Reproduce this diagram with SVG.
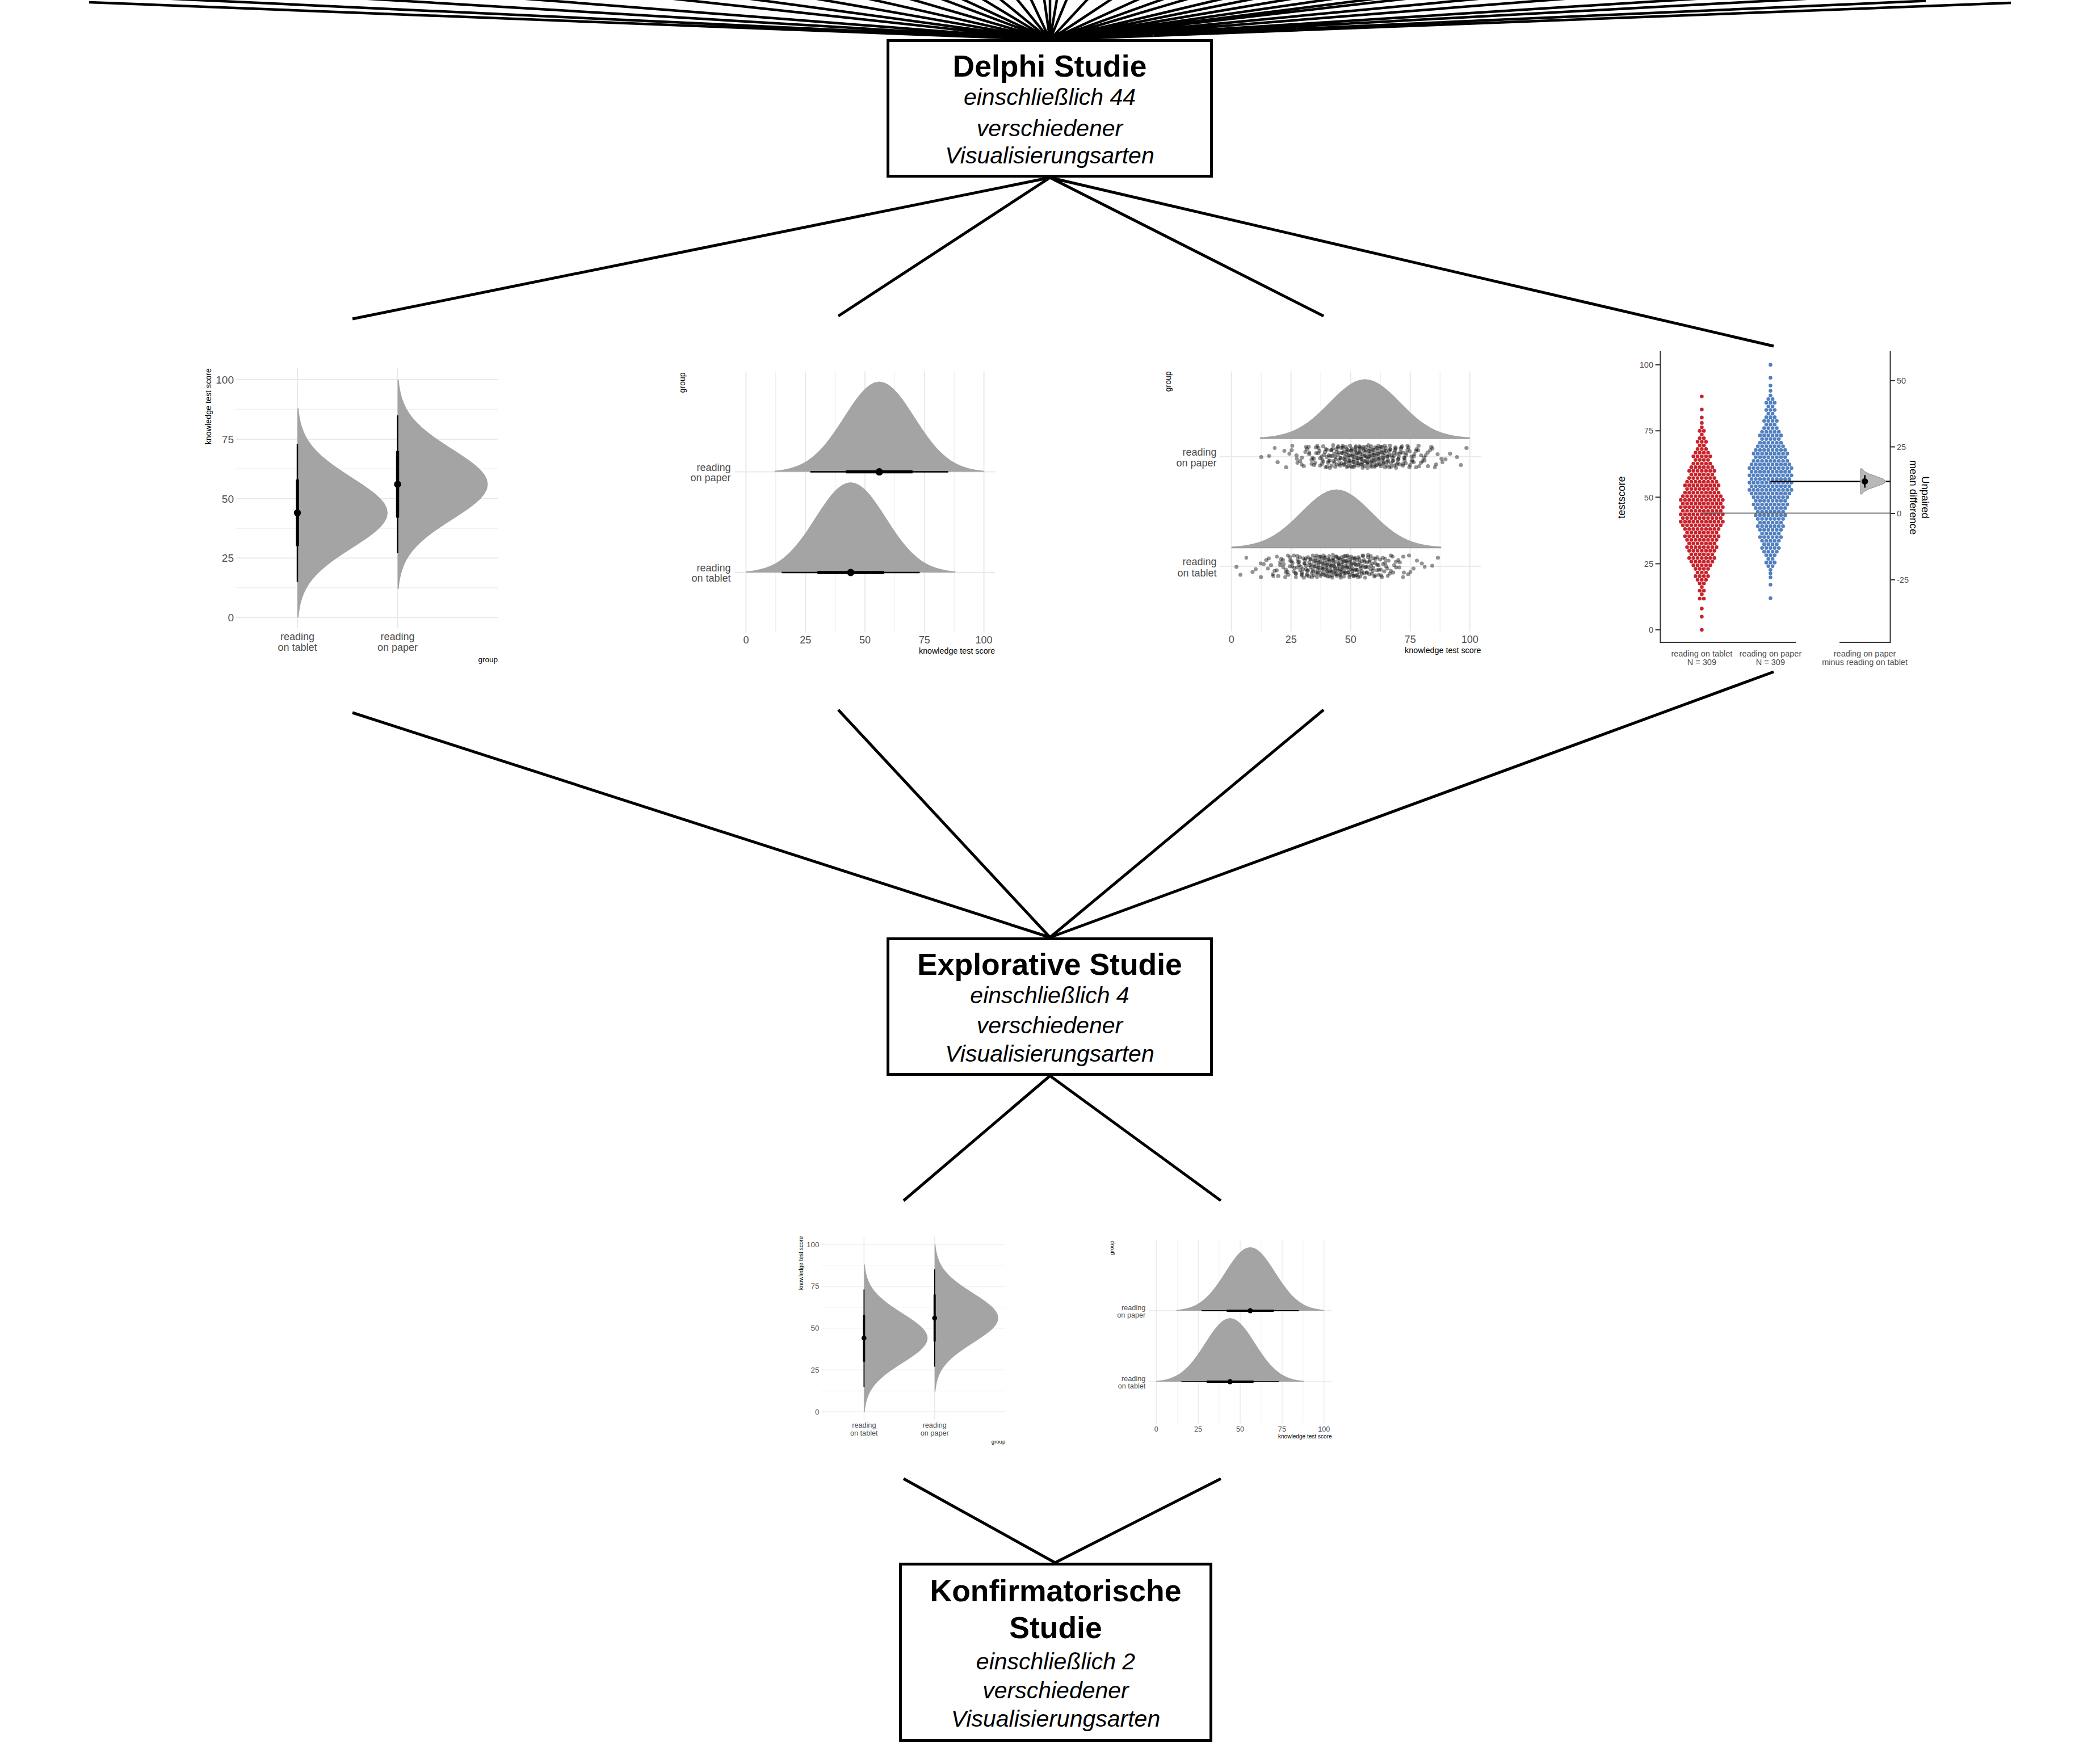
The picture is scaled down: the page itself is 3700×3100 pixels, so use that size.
<svg xmlns="http://www.w3.org/2000/svg" width="3700" height="3100" viewBox="0 0 3700 3100">
<style>
.fan{stroke:#000;stroke-width:4.5;fill:none}
.ln{stroke:#000;stroke-width:5;fill:none}
.box{fill:#fff;stroke:#000;stroke-width:5}
.t{font-family:"Liberation Sans",Arial,sans-serif;font-weight:bold;font-size:53.5px;text-anchor:middle;fill:#000}
.s{font-family:"Liberation Sans",Arial,sans-serif;font-style:italic;font-size:41px;text-anchor:middle;fill:#000}
.gr{stroke:#e9e9e9;stroke-width:2;fill:none}
.gm{stroke:#f0f0f0;stroke-width:1.5;fill:none}
.den{fill:#a4a4a4}
.tk{font-family:"Liberation Sans",Arial,sans-serif;fill:#4d4d4d}
.ax{font-family:"Liberation Sans",Arial,sans-serif;fill:#000}
.sw{fill:none;stroke-width:6.6;stroke-linecap:round;stroke-dasharray:0 7.4}
</style>
<defs>
<path id="dens" d="M-44 0L-44 -.012L-42 -.0178L-40 -.0259L-38 -.037L-36 -.0519L-34 -.0714L-32 -.0965L-30 -.1281L-28 -.167L-26 -.2137L-24 -.2685L-22 -.3312L-20 -.4012L-18 -.4772L-16 -.5574L-14 -.6392L-12 -.7198L-10 -.7959L-8 -.8641L-6 -.9211L-4 -.9642L-2 -.9909L0 -1L2 -.9909L4 -.9642L6 -.9211L8 -.8641L10 -.7959L12 -.7198L14 -.6392L16 -.5574L18 -.4772L20 -.4012L22 -.3312L24 -.2685L26 -.2137L28 -.167L30 -.1281L32 -.0965L34 -.0714L36 -.0519L38 -.037L40 -.0259L42 -.0178L44 -.012L44 0Z"/>
<path id="jit" fill="none" stroke="#000" stroke-width="7" stroke-linecap="round" d="M1 -8h0M-1 17h0M3 1h0M-3 -14h0M4 11h0M-4 -4h0M6 -20h0M-6 5h0M7 -10h0M-7 14h0M9 -1h0M-9 -16h0M11 9h0M-11 -7h0M12 18h0M-12 3h0M14 -12h0M-14 12h0M16 -3h0M-16 -18h0M17 6h0M-17 -9h0M19 16h0M-19 1h0M21 -15h0M-21 10h0M23 -5h0M-23 19h0M24 4h0M-24 -11h0M26 14h0M-26 -2h0M28 -17h0M-28 8h0M30 -7h0M-30 17h0M32 2h0M-32 -13h0M33 11h0M-33 -4h0M35 -19h0M-35 6h0M37 -10h0M-37 15h0M39 0h0M-39 -16h0M41 9h0M-41 -6h0M43 19h0M-43 3h0M45 -12h0M-45 13h0M47 -2h0M-47 -18h0M50 7h0M-50 -8h0M52 16h0M-52 1h0M54 -14h0M-54 11h0M56 -5h0M-56 -20h0M59 5h0M-59 -11h0M61 14h0M-61 -1h0M64 -16h0M-64 8h0M67 -7h0M-67 18h0M69 2h0M-69 -13h0M72 12h0M-72 -3h0M75 -19h0M-75 6h0M79 -9h0M-79 16h0M82 0h0M-82 -15h0M86 10h0M-86 -6h0M90 19h0M-90 4h0M94 -11h0M-94 13h0M99 -2h0M-99 -17h0M105 7h0M-105 -8h0M111 17h0M-111 2h0M119 -14h0M-119 11h0M128 -4h0M-128 -19h0M142 5h0M-142 -10h0M169 15h0M-169 -1h0"/>
<g id="p1body">
<path class="gr" d="M416 1088.2H877M416 983.4H877M416 878.7H877M416 773.9H877M416 669.1H877"/>
<path class="gm" d="M416 1035.8H877M416 931H877M416 826.3H877M416 721.5H877"/>
<path class="gr" d="M524 649V1107M700.5 649V1107"/>
<use href="#dens" class="den" transform="matrix(0 -4.191 -159 0 524 903.8)"/>
<use href="#dens" class="den" transform="matrix(0 -4.191 -159 0 700.5 853.5)"/>
<path stroke="#000" stroke-width="2.5" d="M524 782.3V1025.3M700.5 731.9V975"/>
<path stroke="#000" stroke-width="5.5" d="M524 845.1V962.5M700.5 794.8V912.2"/>
<circle cx="524" cy="903.8" r="6.2"/>
<circle cx="700.5" cy="853.5" r="6.2"/>
</g>
<g id="p2body">
<path class="gr" d="M1314.4 654.5V1114.4M1419.2 654.5V1114.4M1524 654.5V1114.4M1628.8 654.5V1114.4M1733.6 654.5V1114.4"/>
<path class="gm" d="M1366.8 654.5V1114.4M1471.6 654.5V1114.4M1576.4 654.5V1114.4M1681.2 654.5V1114.4"/>
<path class="gr" d="M1294.7 831.6H1753.3M1294.7 1009H1753.3"/>
<use href="#dens" class="den" transform="matrix(4.192 0 0 159 1549.2 831.6)"/>
<use href="#dens" class="den" transform="matrix(4.192 0 0 159 1498.8 1009)"/>
<path stroke="#000" stroke-width="2.5" d="M1427.6 831.6H1670.7M1377.3 1009H1620.4"/>
<path stroke="#000" stroke-width="5.5" d="M1490.5 831.6H1607.8M1440.2 1009H1557.5"/>
<circle cx="1549.2" cy="831.6" r="6.5"/>
<circle cx="1498.8" cy="1009" r="6.5"/>
</g>
</defs>
<rect x="0" y="0" width="3700" height="3100" fill="#fff"/>

<g id="connectors">
<path class="fan" d="M1850 70L157 4M1850 70L47.6 -14M1850 70L450.8 -14M1850 70L773.6 -14M1850 70L1077.2 -14M1850 70L1234.4 -14M1850 70L1371.2 -14M1850 70L1478 -14M1850 70L1562 -14M1850 70L1626.8 -14M1850 70L1668.8 -14M1850 70L1710.8 -14M1850 70L1746.8 -14M1850 70L1781.6 -14M1850 70L1810.4 -14M1850 70L1838 -14M1850 70L1850 -14M1850 70L1864.4 -14M1850 70L1884.8 -14M1850 70L1928 -14M1850 70L1977.2 -14M1850 70L2033.6 -14M1850 70L2084 -14M1850 70L2133.2 -14M1850 70L2204 -14M1850 70L2267.6 -14M1850 70L2345.6 -14M1850 70L2430.8 -14M1850 70L2516 -14M1850 70L2579.6 -14M1850 70L2729.6 -14M1850 70L2906 -14M1850 70L3176 -14M1850 70L3401.6 -14M1850 70L3393 1.5M1850 70L3543 5"/>
<path class="ln" d="M1850 313L621 562M1850 313L1477 557M1850 313L2332 557M1850 313L3125 610"/>
<path class="ln" d="M621 1256L1850 1652M1477 1251L1850 1652M2332 1251L1850 1652M3125 1184L1850 1652"/>
<path class="ln" d="M1850 1896L1592 2116M1850 1896L2151 2116"/>
<path class="ln" d="M1592 2606L1859 2754M2151 2606L1859 2754"/>
</g>

<g id="delphi">
<rect class="box" x="1564.5" y="71.5" width="570" height="239"/>
<text class="t" x="1849.5" y="135">Delphi Studie</text>
<text class="s" x="1849.5" y="185">einschließlich 44</text>
<text class="s" x="1849.5" y="240">verschiedener</text>
<text class="s" x="1849.5" y="288">Visualisierungsarten</text>
</g>

<g id="plot1">
<use href="#p1body"/>
<g class="tk" font-size="19" text-anchor="end"><text x="412" y="675.9">100</text><text x="412" y="780.7">75</text><text x="412" y="885.5">50</text><text x="412" y="990.2">25</text><text x="412" y="1095">0</text></g>
<g class="tk" font-size="18" text-anchor="middle"><text x="524" y="1128">reading</text><text x="524" y="1147">on tablet</text><text x="700.5" y="1128">reading</text><text x="700.5" y="1147">on paper</text></g>
<text class="ax" x="877" y="1167" font-size="13.5" text-anchor="end">group</text>
<text class="ax" font-size="14.3" text-anchor="end" transform="rotate(-90 372 649)" x="372" y="649">knowledge test score</text>
</g>

<g id="plot2">
<use href="#p2body"/>
<g class="tk" font-size="18" text-anchor="end"><text x="1287.6" y="830">reading</text><text x="1287.6" y="848.3">on paper</text><text x="1287.6" y="1007">reading</text><text x="1287.6" y="1025.3">on tablet</text></g>
<g class="tk" font-size="18" text-anchor="middle"><text x="1314.4" y="1134.4">0</text><text x="1419.2" y="1134.4">25</text><text x="1524" y="1134.4">50</text><text x="1628.8" y="1134.4">75</text><text x="1733.6" y="1134.4">100</text></g>
<text class="ax" x="1753.3" y="1151.5" font-size="14.3" text-anchor="end">knowledge test score</text>
<text class="ax" font-size="14" text-anchor="end" transform="rotate(-90 1207 656.4)" x="1207" y="656.4">group</text>
</g>

<g id="plot3">
<path class="gr" d="M2169.7 654.5V1112.5M2274.7 654.5V1112.5M2379.7 654.5V1112.5M2484.7 654.5V1112.5M2589.7 654.5V1112.5"/>
<path class="gm" d="M2222.2 654.5V1112.5M2327.2 654.5V1112.5M2432.2 654.5V1112.5M2537.2 654.5V1112.5"/>
<path class="gr" d="M2148.7 804.7H2609.4M2148.7 998H2609.4"/>
<use href="#dens" class="den" transform="matrix(4.2 0 0 103.7 2404.9 772)"/>
<use href="#dens" class="den" transform="matrix(4.2 0 0 102 2354.5 964.6)"/>
<path stroke="#9a9a9a" stroke-width="2.2" d="M2220.1 772.5H2589.7M2169.7 965.1H2539.3"/>
<use href="#jit" opacity=".42" transform="translate(2404.9 804.6)"/>
<use href="#jit" opacity=".42" transform="translate(2406.5 804.6) scale(-.95 -1)"/>
<use href="#jit" opacity=".42" transform="translate(2403 804.6) scale(1.07 -1)"/>
<use href="#jit" opacity=".42" transform="translate(2354.5 998) scale(-1 1)"/>
<use href="#jit" opacity=".42" transform="translate(2356 998) scale(1.05 -1)"/>
<use href="#jit" opacity=".42" transform="translate(2353 998) scale(-.93 -1)"/>
<g class="tk" font-size="18" text-anchor="end"><text x="2143.6" y="802.5">reading</text><text x="2143.6" y="821.7">on paper</text><text x="2143.6" y="996.2">reading</text><text x="2143.6" y="1015.5">on tablet</text></g>
<g class="tk" font-size="18" text-anchor="middle"><text x="2169.7" y="1132.5">0</text><text x="2274.7" y="1132.5">25</text><text x="2379.7" y="1132.5">50</text><text x="2484.7" y="1132.5">75</text><text x="2589.7" y="1132.5">100</text></g>
<text class="ax" x="2609.4" y="1150.7" font-size="14.3" text-anchor="end">knowledge test score</text>
<text class="ax" font-size="14" text-anchor="end" transform="rotate(-90 2063 654.5)" x="2063" y="654.5">group</text>
</g>

<g id="plot4">
<path class="sw" stroke="#c8232c" d="M2998.4 698.7h.5M2998.4 721.7h.5M2998.4 735.9h.5M2998.4 745.4h.5M2998.4 753h.5M2994.7 759.4h7.9M2998.4 765.8h.5M2994.7 772.2h7.9M2991 778.6h15.3M2994.7 785h7.9M2991 791.4h15.3M2987.3 797.8h22.7M2983.6 804.2h30.1M2987.3 810.6h22.7M2983.6 817h30.1M2979.9 823.4h37.5M2976.2 829.8h44.9M2979.9 836.2h37.5M2976.2 842.6h44.9M2972.5 849h52.3M2968.8 855.4h59.7M2972.5 861.8h52.3M2968.8 868.2h59.7M2965.1 874.6h67.1M2961.4 881h74.5M2965.1 887.4h67.1M2961.4 893.8h74.5M2965.1 900.2h67.1M2961.4 906.6h74.5M2965.1 913h67.1M2961.4 919.4h74.5M2965.1 925.8h67.1M2968.8 932.2h59.7M2972.5 938.6h52.3M2968.8 945h59.7M2972.5 951.4h52.3M2976.2 957.8h44.9M2972.5 964.2h52.3M2976.2 970.6h44.9M2979.9 977h37.5M2976.2 983.4h44.9M2979.9 989.8h37.5M2983.6 996.2h30.1M2987.3 1002.6h22.7M2991 1009h15.3M2987.3 1015.4h22.7M2991 1021.8h15.3M2994.7 1028.2h7.9M2998.4 1034.6h.5M2994.7 1041h7.9M2998.4 1047.4h.5M2994.7 1055h7.9M2998.4 1072.6h.5M2998.4 1086.8h.5M2998.4 1110.1h.5"/>
<path class="sw" stroke="#5280c0" d="M3119.4 642.9h.5M3119.4 665.8h.5M3119.4 679.6h.5M3119.4 688.8h.5M3119.4 697h.5M3115.7 703.4h7.9M3112 709.8h15.3M3115.7 716.2h7.9M3112 722.6h15.3M3115.7 729h7.9M3112 735.4h15.3M3108.3 741.8h22.7M3112 748.2h15.3M3108.3 754.6h22.7M3104.6 761h30.1M3100.9 767.4h37.5M3104.6 773.8h30.1M3100.9 780.2h37.5M3097.2 786.6h44.9M3093.5 793h52.3M3089.8 799.4h59.7M3093.5 805.8h52.3M3089.8 812.2h59.7M3086.1 818.6h67.1M3082.4 825h74.5M3086.1 831.4h67.1M3082.4 837.8h74.5M3086.1 844.2h67.1M3082.4 850.6h74.5M3086.1 857h67.1M3082.4 863.4h74.5M3086.1 869.8h67.1M3089.8 876.2h59.7M3093.5 882.6h52.3M3089.8 889h59.7M3093.5 895.4h52.3M3097.2 901.8h44.9M3093.5 908.2h52.3M3097.2 914.6h44.9M3100.9 921h37.5M3097.2 927.4h44.9M3100.9 933.8h37.5M3104.6 940.2h30.1M3100.9 946.6h37.5M3104.6 953h30.1M3108.3 959.4h22.7M3104.6 965.8h30.1M3108.3 972.2h22.7M3112 978.6h15.3M3115.7 985h7.9M3112 991.4h15.3M3115.7 997.8h7.9M3119.4 1004.2h.5M3119.4 1010.6h.5M3119.4 1017.5h.5M3119.4 1030.5h.5M3119.4 1054.3h.5"/>
<path d="M2925.4 619V1132H3164M3241 1132H3330.5V619" fill="none" stroke="#333" stroke-width="2"/>
<path stroke="#333" stroke-width="2" d="M2916.6 642.9H2925.4M2916.6 759.2H2925.4M2916.6 876.3H2925.4M2916.6 993.4H2925.4M2916.6 1110.1H2925.4M3330.5 670.8H3339M3330.5 787.5H3339M3330.5 905H3339M3330.5 1021.7H3339"/>
<path d="M2998.4 904.2H3330.5" stroke="#555" stroke-width="1.6"/>
<path d="M3119.4 848.4H3330.5" stroke="#000" stroke-width="2.5"/>
<path d="M3278 825.9L3280 825.9L3284.1 830.4L3292.6 834.9L3305.3 839.4L3317.7 843.9L3323 848.4L3317.7 852.9L3305.3 857.4L3292.6 861.9L3284.1 866.4L3280 870.9L3278 870.9Z" fill="#b8b8b8" stroke="#8a8a8a" stroke-width="1"/>
<path d="M3285.6 837.3V859.5" stroke="#000" stroke-width="2.5"/>
<circle cx="3285.6" cy="848.4" r="5.6"/>
<g class="tk" font-size="14.5" fill="#555" text-anchor="end"><text x="2913" y="648.1">100</text><text x="2913" y="764.4">75</text><text x="2913" y="881.5">50</text><text x="2913" y="998.6">25</text><text x="2913" y="1115.3">0</text></g>
<g class="tk" font-size="14.5" fill="#555" text-anchor="start"><text x="3342" y="676">50</text><text x="3342" y="792.7">25</text><text x="3342" y="910.2">0</text><text x="3342" y="1026.9">-25</text></g>
<g class="tk" font-size="14.5" fill="#555" text-anchor="middle"><text x="2998.4" y="1156.8">reading on tablet</text><text x="2998.4" y="1172.1">N = 309</text><text x="3119.4" y="1156.8">reading on paper</text><text x="3119.4" y="1172.1">N = 309</text><text x="3285.6" y="1156.8">reading on paper</text><text x="3285.6" y="1172.1">minus reading on tablet</text></g>
<text class="ax" font-size="18.4" text-anchor="middle" transform="rotate(-90 2863 876.5)" x="2863" y="876.5">testscore</text>
<text class="ax" font-size="18.4" text-anchor="middle" transform="rotate(90 3386 876.5)" x="3386" y="876.5">Unpaired</text>
<text class="ax" font-size="18.4" text-anchor="middle" transform="rotate(90 3365 876.5)" x="3365" y="876.5">mean difference</text>
</g>

<g id="explorative">
<rect class="box" x="1564.5" y="1654.5" width="570" height="239"/>
<text class="t" x="1849.5" y="1718">Explorative Studie</text>
<text class="s" x="1849.5" y="1768">einschließlich 4</text>
<text class="s" x="1849.5" y="1821">verschiedener</text>
<text class="s" x="1849.5" y="1871">Visualisierungsarten</text>
</g>

<g id="plotA" transform="matrix(0.705 0 0 0.705 1152.9 1721.1)">
<use href="#p1body"/>
<g class="tk" font-size="19" text-anchor="end"><text x="412" y="675.9">100</text><text x="412" y="780.7">75</text><text x="412" y="885.5">50</text><text x="412" y="990.2">25</text><text x="412" y="1095">0</text></g>
<g class="tk" font-size="18" text-anchor="middle"><text x="524" y="1128">reading</text><text x="524" y="1147">on tablet</text><text x="700.5" y="1128">reading</text><text x="700.5" y="1147">on paper</text></g>
<text class="ax" x="877" y="1167" font-size="13.5" text-anchor="end">group</text>
<text class="ax" font-size="14.3" text-anchor="end" transform="rotate(-90 372 649)" x="372" y="649">knowledge test score</text>
</g>

<g id="plotB" transform="matrix(0.705 0 0 0.705 1110.6 1723.7)">
<use href="#p2body"/>
<g class="tk" font-size="18" text-anchor="end"><text x="1287.6" y="830">reading</text><text x="1287.6" y="848.3">on paper</text><text x="1287.6" y="1007">reading</text><text x="1287.6" y="1025.3">on tablet</text></g>
<g class="tk" font-size="18" text-anchor="middle"><text x="1314.4" y="1134.4">0</text><text x="1419.2" y="1134.4">25</text><text x="1524" y="1134.4">50</text><text x="1628.8" y="1134.4">75</text><text x="1733.6" y="1134.4">100</text></g>
<text class="ax" x="1753.3" y="1151.5" font-size="14.3" text-anchor="end">knowledge test score</text>
<text class="ax" font-size="14" text-anchor="end" transform="rotate(-90 1207 656.4)" x="1207" y="656.4">group</text>
</g>

<g id="konfirmatorisch">
<rect class="box" x="1586.5" y="2756.5" width="547" height="311"/>
<text class="t" x="1860" y="2821.7">Konfirmatorische</text>
<text class="t" x="1860" y="2886.7">Studie</text>
<text class="s" x="1860" y="2941.7">einschließlich 2</text>
<text class="s" x="1860" y="2993">verschiedener</text>
<text class="s" x="1860" y="3043">Visualisierungsarten</text>
</g>
</svg>
